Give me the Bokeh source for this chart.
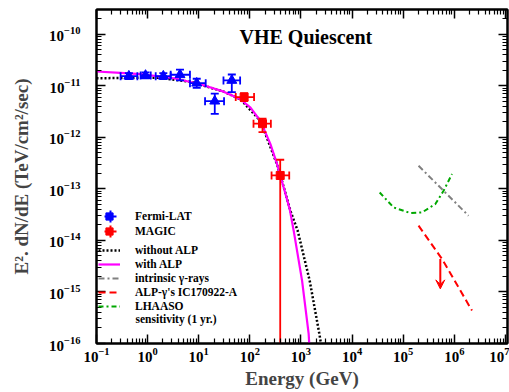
import math
from bokeh.plotting import figure
from bokeh.models import (LogAxis, FixedTicker, Legend, LegendItem, Label, Arrow,
                          VeeHead, ColumnDataSource, Range1d)
from bokeh.embed import file_html
from bokeh.resources import INLINE

FONT = "Liberation Serif"
NAN = float("nan")

# ---------------- data ----------------
x_ticks = [1e-1, 1e0, 1e1, 1e2, 1e3, 1e4, 1e5, 1e6, 1e7]
y_ticks = [1e-16, 1e-15, 1e-14, 1e-13, 1e-12, 1e-11, 1e-10]
minor_mult = [2, 3, 4, 5, 6, 7, 8, 9]

# Fermi-LAT (blue triangles)
fermi_E = [0.43, 0.91, 2.03, 4.3, 9.14, 20.6, 44.4]
fermi_F = [1.55e-11, 1.6e-11, 1.55e-11, 1.65e-11, 1.13e-11, 5.07e-12, 1.28e-11]
fermi_E_lo = [0.296, 0.73, 1.44, 2.83, 6.74, 13.3, 30.5]
fermi_E_hi = [0.63, 1.15, 2.82, 6.74, 13.7, 31.3, 64.6]
fermi_F_lo = [1.36e-11, 1.4e-11, 1.36e-11, 1.28e-11, 9.2e-12, 2.88e-12, 7.59e-12]
fermi_F_hi = [1.77e-11, 1.83e-11, 1.77e-11, 2.07e-11, 1.38e-11, 7.07e-12, 1.67e-11]

# MAGIC (red squares); last lower error reaches zero flux
magic_E = [77.3, 177, 393]
magic_F = [6.07e-12, 1.85e-12, 1.83e-13]
magic_E_lo = [53, 118, 266]
magic_E_hi = [121, 258, 590]
magic_F_lo = [5.1e-12, 1.27e-12, 1e-18]
magic_F_hi = [7.22e-12, 2.31e-12, 3.69e-13]

# model: without ALP (black dotted)
noalp_E = [0.1, 1.54, 6.89, 30.8, 65.5, 161, 341, 465, 621, 863, 1483, 2323, 2500]
noalp_F = [1.41e-11, 1.45e-11, 1.21e-11, 7.76e-12, 5.5e-12, 2.10e-12, 3.0e-13,
           1.05e-13, 3.79e-14, 1.55e-14, 1.66e-15, 1.43e-16, 9e-17]

# model: with ALP (magenta)
alp_E = [0.1, 0.294, 0.724, 3.25, 10.8, 30.8, 65.5, 103, 161, 253, 341, 460, 603,
         721, 1052, 1416, 1460]
alp_F = [1.91e-11, 1.79e-11, 1.69e-11, 1.41e-11, 1.08e-11, 7.76e-12, 5.52e-12,
         3.80e-12, 2.10e-12, 7.41e-13, 3.04e-13, 1.07e-13, 4.07e-14, 1.55e-14,
         1.66e-15, 1.54e-16, 9.2e-17]

# intrinsic gamma-rays (grey dash-dot)
intr_E = [2.0e5, 1.9e6]
intr_F = [2.82e-13, 3.03e-14]

# ALP-gamma's IC170922-A (red dashed)
icalp_E = [2.0e5, 5.75e5, 2.22e6]
icalp_F = [1.94e-14, 4.38e-15, 4.36e-16]

# upper-limit arrow
ul_E = 5.33e5
ul_F_start = 4.38e-15
ul_F_end = 1.15e-15

# LHAASO sensitivity (green dash-dot)
lhaaso_E = [3.47e4, 6.5e4, 1.38e5, 2.34e5, 4.26e5, 6.18e5, 9.02e5]
lhaaso_F = [8.55e-14, 4.38e-14, 3.41e-14, 3.51e-14, 5.09e-14, 9.23e-14, 1.95e-13]

x_minor = [m * t for t in x_ticks[:-1] for m in minor_mult]
y_minor = [m * t for t in y_ticks for m in minor_mult]

BLUE = "#0000FF"
RED = "#FF0000"
MAGENTA = "#FF00FF"
GREY = "#808080"
GREEN = "#00A800"

# ---------------- figure ----------------
p = figure(width=509, height=392, x_axis_type="log", y_axis_type="log",
           x_range=Range1d(0.1, 1.1e7), y_range=Range1d(1e-16, 3.05e-10),
           output_backend="svg", toolbar_location=None,
           min_border_left=96, min_border_right=2, min_border_top=9,
           min_border_bottom=49)
p.grid.visible = False
p.outline_line_color = "black"
p.outline_line_width = 2
p.background_fill_color = "white"
p.border_fill_color = "white"


def style(ax, ticks, minor, show_labels=True):
    ax.ticker = FixedTicker(ticks=ticks, minor_ticks=minor)
    ax.axis_line_width = 2
    ax.axis_line_color = "black"
    ax.major_tick_in = 9
    ax.major_tick_out = 0
    ax.minor_tick_in = 5
    ax.minor_tick_out = 0
    ax.major_tick_line_width = 1.5
    ax.minor_tick_line_width = 1.2
    ax.major_tick_line_color = "black"
    ax.minor_tick_line_color = "black"
    ax.major_label_text_font = FONT
    ax.major_label_text_font_style = "bold"
    ax.major_label_text_color = "black"
    if show_labels:
        ax.major_label_text_font_size = "15px"
    else:
        ax.major_label_text_font_size = "0px"
        ax.major_label_text_alpha = 0
        ax.major_label_standoff = 0


xb = p.xaxis[0]
style(xb, x_ticks, x_minor)
xb.major_label_standoff = 4
xb.axis_label = "Energy (GeV)"
xb.axis_label_text_font = FONT
xb.axis_label_text_font_style = "bold"
xb.axis_label_text_font_size = "19px"
xb.axis_label_standoff = 3

yl = p.yaxis[0]
style(yl, y_ticks, y_minor)
yl.major_label_standoff = 16
yl.axis_label = "E². dN/dE (TeV/cm²/sec)"
yl.axis_label_text_font = FONT
yl.axis_label_text_font_style = "bold"
yl.axis_label_text_font_size = "19px"
yl.axis_label_standoff = 14

top_ax = LogAxis()
style(top_ax, x_ticks, x_minor, show_labels=False)
p.add_layout(top_ax, "above")
right_ax = LogAxis()
style(right_ax, y_ticks, y_minor, show_labels=False)
p.add_layout(right_ax, "right")

# ---------------- curves ----------------
r_noalp = p.line(noalp_E, noalp_F, line_color="black", line_width=2.5, line_dash="2 2")
r_alp = p.line(alp_E, alp_F, line_color=MAGENTA, line_width=2.2)
r_intr = p.line(intr_E, intr_F, line_color=GREY, line_width=2, line_dash="6 3 2 3")
r_ic = p.line(icalp_E, icalp_F, line_color=RED, line_width=2, line_dash="7 4")
r_lh = p.line(lhaaso_E, lhaaso_F, line_color=GREEN, line_width=2, line_dash="5 3 2 3")

p.add_layout(Arrow(x_start=ul_E, y_start=ul_F_start, x_end=ul_E, y_end=ul_F_end,
                   line_color=RED, line_width=2,
                   end=VeeHead(size=9, fill_color=RED, line_color=RED)))


# ---------------- data points with error bars ----------------
def points(E, F, Elo, Ehi, Flo, Fhi, color, marker, size):
    src = ColumnDataSource(dict(E=E, F=F, Elo=Elo, Ehi=Ehi, Flo=Flo, Fhi=Fhi))
    p.segment(x0="E", y0="Flo", x1="E", y1="Fhi", source=src, line_color=color, line_width=1.8)
    p.segment(x0="Elo", y0="F", x1="Ehi", y1="F", source=src, line_color=color, line_width=1.8)
    p.scatter(x="E", y="Fhi", source=src, marker="dash", size=8, line_color=color, line_width=1.8)
    p.scatter(x="E", y="Flo", source=src, marker="dash", size=8, line_color=color, line_width=1.8)
    p.scatter(x="Elo", y="F", source=src, marker="dash", angle=math.pi / 2, size=8,
              line_color=color, line_width=1.8)
    p.scatter(x="Ehi", y="F", source=src, marker="dash", angle=math.pi / 2, size=8,
              line_color=color, line_width=1.8)
    p.scatter(x="E", y="F", source=src, marker=marker, size=size,
              fill_color=color, line_color=color)


points(fermi_E, fermi_F, fermi_E_lo, fermi_E_hi, fermi_F_lo, fermi_F_hi, BLUE, "triangle", 10)
points(magic_E, magic_F, magic_E_lo, magic_E_hi, magic_F_lo, magic_F_hi, RED, "square", 8)

# legend-only glyphs (never drawn in the plot: NaN position)
leg_sq_f = p.scatter([NAN], [NAN], marker="square", fill_color=BLUE, line_color=BLUE)
leg_sq_m = p.scatter([NAN], [NAN], marker="square", fill_color=RED, line_color=RED)
leg_cx_f = p.scatter([NAN], [NAN], marker="cross", line_color=BLUE, line_width=2)
leg_cx_m = p.scatter([NAN], [NAN], marker="cross", line_color=RED, line_width=2)

LEG_FS = "11.5px"
common = dict(orientation="vertical", padding=0, margin=0, background_fill_alpha=0,
              border_line_alpha=0, label_text_font=FONT, label_text_font_style="bold",
              label_text_font_size=LEG_FS, label_text_color="black")


def marker_legend(label, rend, loc, gw, gh, standoff):
    p.add_layout(Legend(items=[LegendItem(label=label, renderers=[rend])], location=loc,
                        glyph_width=gw, glyph_height=gh, label_height=gh, spacing=0,
                        label_standoff=standoff, **common))


# error-bar crosses (behind) and squares of the two data legends
marker_legend(" ", leg_cx_f, (-1, 112), 30, 30, 0)
marker_legend(" ", leg_cx_m, (-1, 97.5), 30, 30, 0)
marker_legend("Fermi-LAT", leg_sq_f, (2, 118), 22, 18, 15)
marker_legend("MAGIC", leg_sq_m, (2, 103.5), 22, 18, 15)

legend_lines = Legend(items=[
    LegendItem(label="without ALP", renderers=[r_noalp]),
    LegendItem(label="with ALP", renderers=[r_alp]),
    LegendItem(label="intrinsic γ-rays", renderers=[r_intr]),
    LegendItem(label="ALP-γ's IC170922-A", renderers=[r_ic]),
    LegendItem(label="LHAASO", renderers=[r_lh]),
], location=(2, 30.5), glyph_width=22, glyph_height=14, label_height=14, spacing=0,
    label_standoff=15, **common)
p.add_layout(legend_lines)

p.add_layout(Label(x=39, y=25, x_units="screen", y_units="screen",
                   text="sensitivity (1 yr.)", text_font=FONT, text_font_style="bold",
                   text_font_size=LEG_FS, text_baseline="middle", text_color="black"))

p.add_layout(Label(x=143, y=306.5, x_units="screen", y_units="screen",
                   text="VHE Quiescent", text_font=FONT, text_font_style="bold",
                   text_font_size="20px", text_baseline="alphabetic", text_color="black"))

open("out.html", "w").write(file_html(p, INLINE))
